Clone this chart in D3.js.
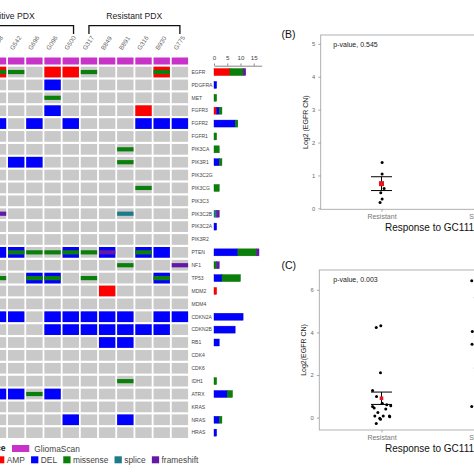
<!DOCTYPE html>
<html><head><meta charset="utf-8">
<script src="https://cdn.jsdelivr.net/npm/d3@7"></script>
<style>
body{margin:0;background:#fff;}
svg{display:block;font-family:"Liberation Sans",Arial,sans-serif;}
</style></head>
<body>
<svg id="c" width="474" height="474"></svg>
<script>
// ---------- DATA ----------
const samples = ["G608","G542","G696","G096","G500","G317","B849","B891","G316","B930","G775"];
const genes = ["EGFR","PDGFRA","MET","FGFR3","FGFR2","FGFR1","PIK3CA","PIK3R1","PIK3C2G","PIK3CG","PIK3C3","PIK3C2B","PIK3C2A","PIK3R2","PTEN","NF1","TP53","MDM2","MDM4","CDKN2A","CDKN2B","RB1","CDK4","CDK6","IDH1","ATRX","KRAS","NRAS","HRAS"];
const groupLabels = ["Sensitive PDX","Resistant PDX"];
const ampCells = [["EGFR","G608"],["EGFR","G096"],["EGFR","G500"],["EGFR","B930"],["FGFR3","G316"],["MDM2","B849"]];
const delCells = [["PDGFRA","G096"],["FGFR3","G096"],
  ["FGFR2","G608"],["FGFR2","G696"],["FGFR2","G500"],["FGFR2","G316"],["FGFR2","B930"],["FGFR2","G775"],
  ["PIK3R1","G542"],["PIK3R1","G696"],
  ["PTEN","G608"],["PTEN","G542"],["PTEN","G500"],["PTEN","B849"],["PTEN","G316"],["PTEN","B930"],
  ["TP53","G696"],["TP53","G096"],["TP53","B930"],
  ["CDKN2A","G608"],["CDKN2A","G542"],["CDKN2A","G096"],["CDKN2A","G500"],["CDKN2A","G317"],["CDKN2A","B849"],["CDKN2A","B891"],["CDKN2A","B930"],["CDKN2A","G775"],
  ["CDKN2B","G096"],["CDKN2B","G500"],["CDKN2B","G317"],["CDKN2B","B849"],["CDKN2B","B891"],["CDKN2B","G316"],["CDKN2B","B930"],
  ["RB1","B849"],["RB1","B891"],
  ["ATRX","G608"],["ATRX","G542"],["ATRX","G096"],
  ["NRAS","G500"],["NRAS","B891"]];
const missenseCells = [["EGFR","G608"],["EGFR","G542"],["EGFR","G317"],["EGFR","B930"],["MET","G096"],
  ["PIK3CA","B891"],["PIK3R1","B891"],["PIK3CG","G316"],
  ["PTEN","G542"],["PTEN","G696"],["PTEN","G096"],["PTEN","G500"],["PTEN","G317"],["PTEN","G316"],
  ["NF1","B891"],
  ["TP53","G608"],["TP53","G696"],["TP53","G096"],["TP53","G317"],["TP53","B930"],
  ["IDH1","B891"],["ATRX","G696"]];
const spliceCells = [["PIK3C2B","B891"]];
const frameshiftCells = [["PIK3C2B","G608"],["PTEN","B849"],["NF1","G775"]];

// counts per gene (same order as genes)
const ampCount   = [6,0,0,1,0,0,0,0,0,0,0,0,0,0,0,0,0,1,0,0,0,0,0,0,0,0,0,0,0];
const delCount   = [0,1,0,1,8,0,0,2,0,0,0,0,1,0,9,0,3,0,0,11,8,2,0,0,0,5,0,2,1];
const missCount  = [5,0,1,1,1,1,2,1,0,2,0,0,0,0,7,1,7,0,0,0,0,0,0,0,1,2,0,1,0];
const spliceCount= [0,0,0,0,0,0,0,0,0,0,0,1,0,0,0,0,0,0,0,0,0,0,0,0,0,0,0,0,0];
const frameCount = [1,0,0,0,0,0,0,0,0,0,0,1,0,0,1,1,0,0,0,0,0,0,0,0,0,0,0,0,0];
const barTicks = [0,5,10,15];

const legendTypes = ["AMP","DEL","missense","splice","frameshift"];
const legendSource = ["GliomaScan"];

// Panel B / C
const responseGroups = ["Resistant","Sensitive"];
const bYTicks = [0,1,2,3,4,5];
const bResistant = [1.39,1.04,0.60,0.47,0.28,0.18];
const bResistantJitter = [0.006,0.006,0.026,-0.007,0.006,-0.014];
const bMean = [0.75], bSE = [0.21];
const cYTicks = [0,2,4,6];
const cResistant = [4.23,4.31,2.11,1.27,0.99,0.67,0.61,0.56,0.52,0.45,0.41,0.24,0.08,0.08,0.08,0.04,-0.03,-0.08,-0.28];
const cResistantJitter = [-0.052,-0.007,-0.01,-0.088,-0.049,0.007,0.052,0.091,-0.088,-0.072,0.042,-0.036,-0.066,0.017,0.078,0.081,-0.017,-0.01,-0.052];
const cSensitive = [6.42,5.63,4.04,3.45,2.33,0.52];
const cSensitiveJitter = [-0.111,-0.075,-0.105,-0.108,-0.075,-0.111];
const cMean = [0.91], cSE = [0.29];
const pValues = ["p-value, 0.545","p-value, 0.003"];

// ---------- DRAW ----------
const svg = d3.select("#c");
const col = {AMP:"#ff0000",DEL:"#0000ff",missense:"#0a800a",splice:"#1d7a8a",frameshift:"#6418a8",GliomaScan:"#c832c8"};
const grey = "#c9c9c9";

const x = d3.scaleBand().domain(samples).range([-10.2,188.1]).paddingInner(0.0984);
const y = d3.scaleBand().domain(genes).range([66.7,438]).paddingInner(0.169);
const bw = x.bandwidth(), bh = y.bandwidth();

const g = svg.append("g");
// background cells
const allCells = d3.cross(genes, samples);
g.selectAll("rect.bg").data(allCells).join("rect")
  .attr("x",d=>x(d[1])).attr("y",d=>y(d[0])).attr("width",bw).attr("height",bh).attr("fill",grey);
// full cells
[["AMP",ampCells],["DEL",delCells]].forEach(([t,arr])=>{
  g.selectAll(null).data(arr).join("rect")
   .attr("x",d=>x(d[1])).attr("y",d=>y(d[0])).attr("width",bw).attr("height",bh).attr("fill",col[t]);
});
// mutation bands
const mh = 4.2;
[["missense",missenseCells],["splice",spliceCells],["frameshift",frameshiftCells]].forEach(([t,arr])=>{
  g.selectAll(null).data(arr).join("rect")
   .attr("x",d=>x(d[1])).attr("y",d=>y(d[0])+bh/2-mh/2).attr("width",bw).attr("height",mh).attr("fill",col[t]);
});
// GliomaScan row
g.selectAll("rect.gs").data(samples).join("rect")
  .attr("x",d=>x(d)).attr("y",57.5).attr("width",bw).attr("height",7).attr("fill",col.GliomaScan);

// sample labels
g.selectAll("text.sl").data(samples).join("text")
  .attr("transform",d=>`translate(${x(d)+bw/2-3},50.5) rotate(-57)`)
  .attr("font-size",6.3).attr("fill","#666").text(d=>d);

// group brackets
const br = g.append("g").attr("stroke","#111").attr("stroke-width",1.3).attr("fill","none");
br.append("path").attr("d",`M${-60},34 V25.7 H${x("G500")+bw*0.67} V34`);
br.append("path").attr("d",`M${x("G317")+bw*0.5},34 V25.7 H${x("G775")+bw*0.5} V34`);
g.append("text").attr("x",7.2).attr("y",18.6).attr("text-anchor","middle").attr("font-size",8.6).attr("fill","#222").text(groupLabels[0]);
g.append("text").attr("x",134.3).attr("y",18.6).attr("text-anchor","middle").attr("font-size",8.6).attr("fill","#222").text(groupLabels[1]);

// gene labels
g.selectAll("text.gl").data(genes).join("text")
  .attr("x",191.5).attr("y",d=>y(d)+bh/2+1.8).attr("font-size",5).attr("fill","#444").text(d=>d);

// bar chart
const xb = d3.scaleLinear().domain([0,18]).range([214,261.65]);
const stackData = genes.map((gname,i)=>({gene:gname,AMP:ampCount[i],DEL:delCount[i],missense:missCount[i],splice:spliceCount[i],frameshift:frameCount[i]}));
const series = d3.stack().keys(legendTypes)(stackData);
const barH = 7;
series.forEach(s=>{
  g.selectAll(null).data(s.filter(d=>d[1]>d[0])).join("rect")
   .attr("x",d=>xb(d[0])).attr("width",d=>xb(d[1])-xb(d[0]))
   .attr("y",d=>y(d.data.gene)+bh/2-barH/2).attr("height",barH)
   .attr("fill",col[s.key]).attr("stroke",d3.color(col[s.key]).darker(0.6)).attr("stroke-width",0.4);
});
const ax = g.append("g").attr("transform","translate(0,65.7)")
  .call(d3.axisTop(xb).tickValues(barTicks).tickSize(2.2).tickSizeOuter(0));
ax.select(".domain").attr("stroke","#555").attr("stroke-width",0.7);
ax.selectAll(".tick line").attr("stroke","#555").attr("stroke-width",0.7);
ax.selectAll(".tick text").attr("font-size",6.2).attr("fill","#444").attr("dy","-0.1em").attr("font-family","Liberation Sans,Arial,sans-serif");

// legend
const lfs = 8.4;
g.append("text").attr("x",5.5).attr("y",451.3).attr("text-anchor","end").attr("font-size",8.6).attr("font-weight","bold").attr("fill","#222").text("Source");
g.append("rect").attr("x",12).attr("y",445).attr("width",17.3).attr("height",7).attr("fill",col.GliomaScan);
g.append("text").attr("x",34.3).attr("y",451.6).attr("font-size",lfs).attr("fill","#444").text(legendSource[0]);
let lx = -3;
legendTypes.forEach(t=>{
  g.append("rect").attr("x",lx).attr("y",456.3).attr("width",7.3).attr("height",7).attr("fill",col[t]);
  const tx = g.append("text").attr("x",lx+9.7).attr("y",462.9).attr("font-size",lfs).attr("fill","#444").text(t);
  lx = lx + 9.7 + tx.node().getComputedTextLength() + 6.2;
});

// ---------- scatter panels ----------
const xr = d3.scalePoint().domain(responseGroups).range([381.5,483]);
const step = xr(responseGroups[1]) - xr(responseGroups[0]);

function panel(opts){
  const {top,bottom,left,domain,ticks,ytitle,label,pval,pts,meanV,seV,markSize,labelY} = opts;
  const ys = d3.scaleLinear().domain(domain).range([bottom,top]);
  const p = svg.append("g");
  p.append("rect").attr("x",left).attr("y",top).attr("width",200).attr("height",bottom-top)
    .attr("fill","none").attr("stroke","#a8a8a8").attr("stroke-width",0.9);
  const ya = p.append("g").attr("transform",`translate(${left},0)`).call(d3.axisLeft(ys).tickValues(ticks).tickSize(2.5).tickFormat(d3.format("d")));
  ya.select(".domain").remove();
  ya.selectAll(".tick line").attr("stroke","#888").attr("stroke-width",0.7);
  ya.selectAll(".tick text").attr("font-size",5.8).attr("fill","#666").attr("font-family","Liberation Sans,Arial,sans-serif");
  const xa = p.append("g").attr("transform",`translate(0,${bottom})`).call(d3.axisBottom(xr).tickSize(2.5));
  xa.select(".domain").remove();
  xa.selectAll(".tick line").attr("stroke","#888").attr("stroke-width",0.7);
  xa.selectAll(".tick text").attr("font-size",7).attr("fill","#777").attr("dy","0.6em").attr("font-family","Liberation Sans,Arial,sans-serif");
  p.append("text").attr("transform",`translate(${left-13},${(top+bottom)/2}) rotate(-90)`)
    .attr("text-anchor","middle").attr("font-size",7).attr("fill","#222").text(ytitle);
  p.append("text").attr("x",xr.range().reduce((a,b)=>(a+b)/2)).attr("y",bottom+21.5).attr("text-anchor","middle")
    .attr("font-size",10).attr("fill","#111").text("Response to GC1118");
  p.append("text").attr("x",281.5).attr("y",labelY).attr("font-size",10.5).attr("fill","#111").text(label);
  p.append("text").attr("x",333.3).attr("y",top+11.5).attr("font-size",7).attr("fill","#222").text(pval);
  pts.forEach(([grp,vals,jit])=>{
    p.selectAll(null).data(vals).join("circle")
      .attr("cx",(d,i)=>xr(grp)+jit[i]*step).attr("cy",d=>ys(d)).attr("r",1.5).attr("fill","#000");
  });
  const cx = xr(responseGroups[0]);
  const eb = p.append("g").attr("stroke","#000").attr("stroke-width",1);
  meanV.forEach((m,i)=>{
    eb.append("line").attr("x1",cx-10.5).attr("x2",cx+10.5).attr("y1",ys(m+seV[i])).attr("y2",ys(m+seV[i]));
    eb.append("line").attr("x1",cx-10.5).attr("x2",cx+10.5).attr("y1",ys(m-seV[i])).attr("y2",ys(m-seV[i]));
    eb.append("line").attr("x1",cx).attr("x2",cx).attr("y1",ys(m+seV[i])).attr("y2",ys(m-seV[i]));
    p.append("rect").attr("x",cx-markSize/2).attr("y",ys(m)-markSize/2).attr("width",markSize).attr("height",markSize).attr("fill","#e8141e");
  });
}
panel({top:35,bottom:209.3,left:320.7,domain:[-0.03,5.27],ticks:bYTicks,ytitle:"Log2 (EGFR CN)",label:"(B)",labelY:37.8,
  pval:pValues[0],pts:[["Resistant",bResistant,bResistantJitter]],meanV:bMean,seV:bSE,markSize:5});
panel({top:270,bottom:430,left:319.3,domain:[-0.58,6.93],ticks:cYTicks,ytitle:"Log2(EGFR CN)",label:"(C)",labelY:268.8,
  pval:pValues[1],pts:[["Resistant",cResistant,cResistantJitter],["Sensitive",cSensitive,cSensitiveJitter]],meanV:cMean,seV:cSE,markSize:3.6});
</script>
</body></html>
